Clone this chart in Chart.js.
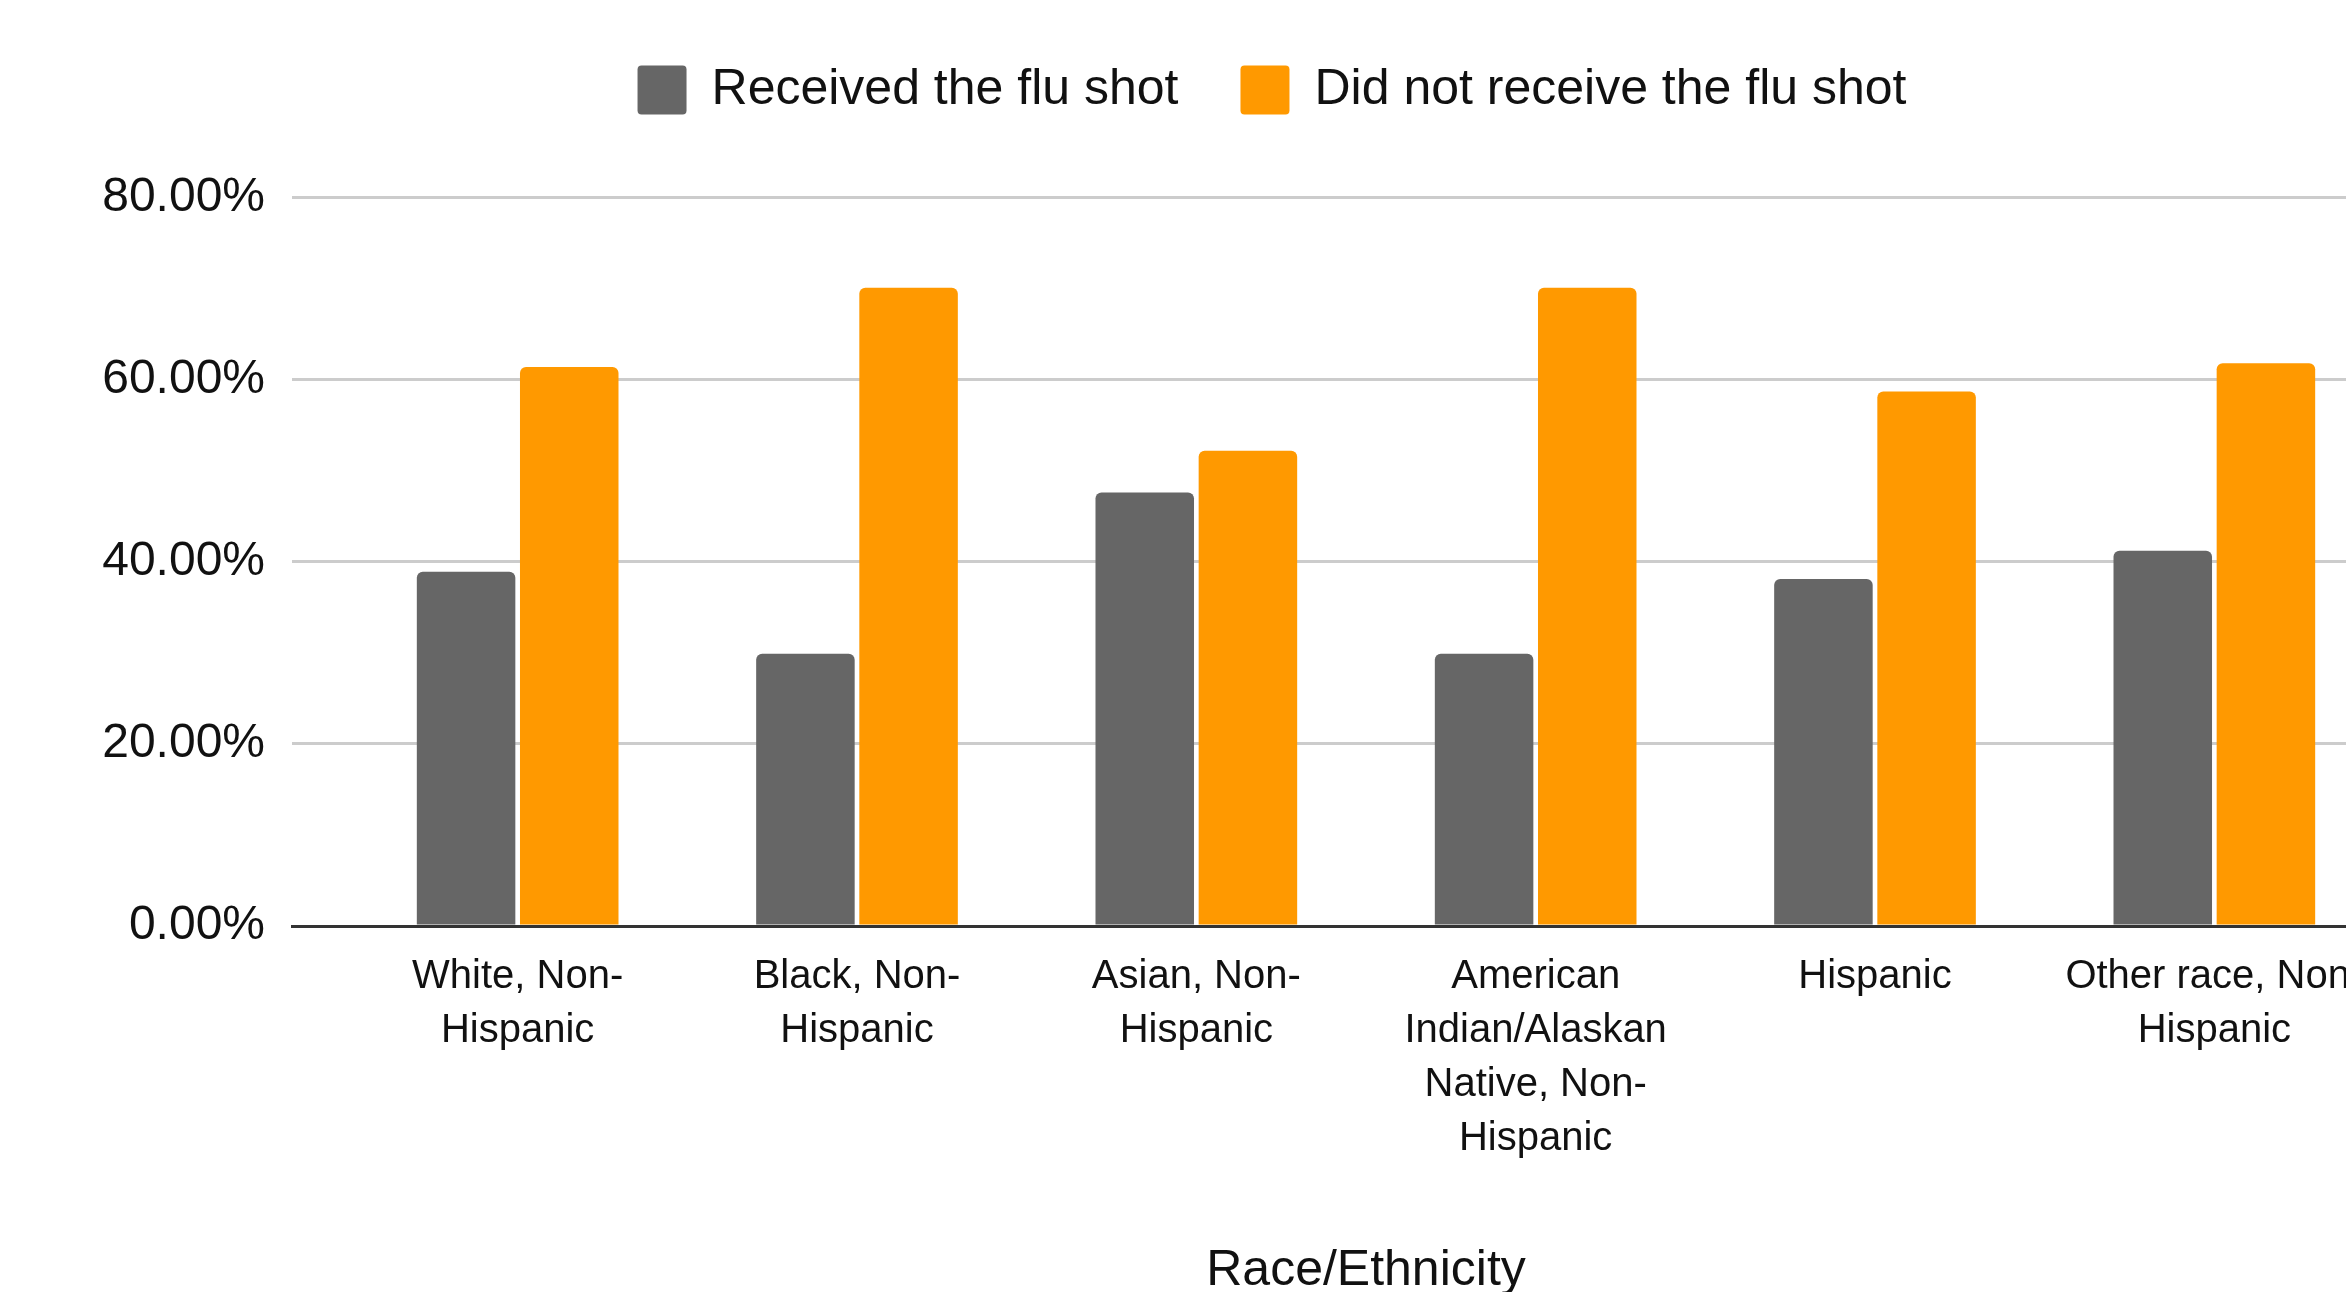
<!DOCTYPE html>
<html>
<head>
<meta charset="utf-8">
<title>Flu shot by race/ethnicity</title>
<script src="https://cdn.jsdelivr.net/npm/chart.js@4"></script>
<style>
    html, body { margin: 0; padding: 0; background: #ffffff; overflow: hidden; }
    #chart { display: block; }
</style>
</head>
<body>
<canvas id="chart" width="2544" height="1292"></canvas>
<script>
// Categories (full names) and how they wrap under the axis
const categories = [
    "White, Non-Hispanic",
    "Black, Non-Hispanic",
    "Asian, Non-Hispanic",
    "American Indian/Alaskan Native, Non-Hispanic",
    "Hispanic",
    "Other race, Non-Hispanic"
];
const categoryLines = [
    ["White, Non-", "Hispanic"],
    ["Black, Non-", "Hispanic"],
    ["Asian, Non-", "Hispanic"],
    ["American", "Indian/Alaskan", "Native, Non-", "Hispanic"],
    ["Hispanic"],
    ["Other race, Non-", "Hispanic"]
];

// Percent values
const received = [38.9, 29.9, 47.6, 29.9, 38.1, 41.2];
const notReceived = [61.4, 70.1, 52.2, 70.1, 58.7, 61.8];

const seriesNames = ["Received the flu shot", "Did not receive the flu shot"];
const yTicks = [0, 20, 40, 60, 80];

const FONT = "'Liberation Sans', Arial, sans-serif";
const TEXT = '#111111';

document.addEventListener('DOMContentLoaded', function() {
    const ctx = document.getElementById('chart').getContext('2d');

    // x is a linear index axis so the first group can sit away from the y axis
    const toPoints = arr => arr.map((v, i) => ({ x: i, y: v }));

    new Chart(ctx, {
        type: 'bar',
        data: {
            datasets: [
                {
                    label: seriesNames[0],
                    data: toPoints(received),
                    backgroundColor: '#666666',
                    borderWidth: 0,
                    borderRadius: { topLeft: 6, topRight: 6 },
                    borderSkipped: 'start',
                    categoryPercentage: 0.608,
                    barPercentage: 0.955
                },
                {
                    label: seriesNames[1],
                    data: toPoints(notReceived),
                    backgroundColor: '#ff9900',
                    borderWidth: 0,
                    borderRadius: { topLeft: 6, topRight: 6 },
                    borderSkipped: 'start',
                    categoryPercentage: 0.608,
                    barPercentage: 0.955
                }
            ]
        },
        options: {
            responsive: false,
            animation: false,
            layout: { padding: { left: 0, right: 0, top: 3, bottom: 0 } },
            plugins: {
                legend: {
                    position: 'top',
                    labels: {
                        font: { family: FONT, size: 50 },
                        color: TEXT,
                        boxWidth: 49,
                        boxHeight: 49,
                        padding: 62,
                        useBorderRadius: true,
                        borderRadius: 4
                    }
                },
                // empty title used only as a spacer between legend and plot
                title: {
                    display: true,
                    text: '',
                    weight: 500,
                    padding: 0,
                    font: { size: 72.5, lineHeight: 1 }
                },
                tooltip: { enabled: false }
            },
            scales: {
                x: {
                    type: 'linear',
                    min: -0.665,
                    max: 5.665,
                    offset: false,
                    grid: { display: false, drawTicks: false },
                    border: { display: true, color: '#333333', width: 3 },
                    afterBuildTicks: scale => {
                        scale.ticks = categories.map((_, i) => ({ value: i }));
                    },
                    afterFit: scale => { scale.height = 366; },
                    ticks: {
                        autoSkip: false,
                        maxRotation: 0,
                        padding: 24,
                        color: TEXT,
                        font: { family: FONT, size: 40, lineHeight: 1.35 },
                        callback: value => categoryLines[value]
                    },
                    title: {
                        display: true,
                        text: 'Race/Ethnicity',
                        color: TEXT,
                        padding: 0,
                        font: { family: FONT, size: 50, lineHeight: 0.85 }
                    }
                },
                y: {
                    min: 0,
                    max: 80,
                    afterBuildTicks: scale => {
                        scale.ticks = yTicks.map(v => ({ value: v }));
                    },
                    afterFit: scale => { scale.width = 292; },
                    grid: {
                        drawTicks: false,
                        lineWidth: 3,
                        color: c => c.tick && c.tick.value === 0 ? 'rgba(0,0,0,0)' : '#cccccc'
                    },
                    border: { display: false },
                    ticks: {
                        padding: 27,
                        color: TEXT,
                        font: { family: FONT, size: 48 },
                        callback: value => value.toFixed(2) + '%'
                    }
                },
                // empty right margin of the plot, so the legend stays centred on the whole chart
                yRight: {
                    position: 'right',
                    display: true,
                    grid: { display: false, drawTicks: false },
                    border: { display: false },
                    ticks: { display: false },
                    afterFit: scale => { scale.width = 104; }
                }
            }
        }
    });
});
</script>
</body>
</html>
